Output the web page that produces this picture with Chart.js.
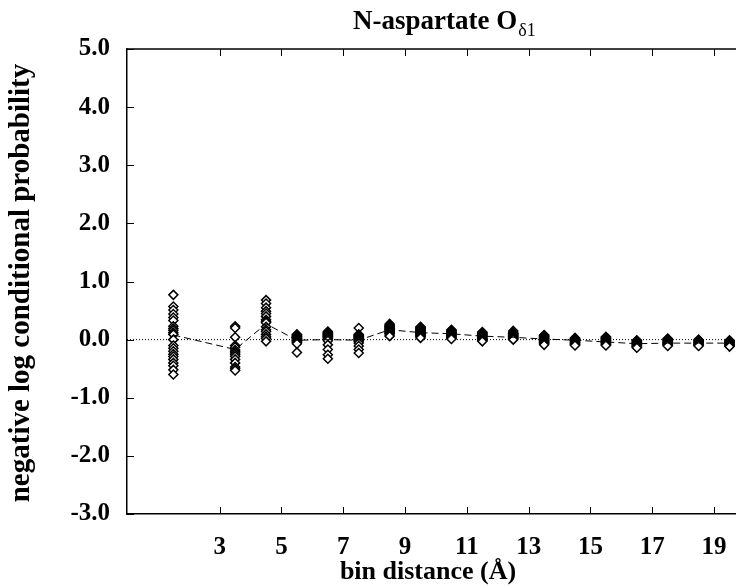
<!DOCTYPE html>
<html>
<head>
<meta charset="utf-8">
<script src="https://cdn.jsdelivr.net/npm/chart.js@4/dist/chart.umd.min.js"></script>
<style>
  html, body { margin: 0; padding: 0; background: #fff; }
  #wrap { width: 736px; height: 586px; }
</style>
</head>
<body>
<div id="wrap"><canvas id="myChart" width="736" height="586"></canvas></div>
<script>
// bin centres (Å)
const bins = [1.5, 3.5, 4.5, 5.5, 6.5, 7.5, 8.5, 9.5, 10.5, 11.5, 12.5, 13.5, 14.5, 15.5, 16.5, 17.5, 18.5, 19.5];

// dashed line through each bin
const meanValues = [0.08, -0.17, 0.27, -0.01, 0.0, -0.01, 0.17, 0.12, 0.10, 0.06, 0.04, 0.01, -0.01, -0.04, -0.07, -0.06, -0.06, -0.06];

// individual diamonds in each bin
const binSamples = [
  [0.77, 0.57, 0.51, 0.44, 0.38, 0.33, 0.23, 0.19, 0.16, 0.12, 0.09, 0.0, -0.10, -0.15, -0.20, -0.25, -0.29, -0.34, -0.40, -0.45, -0.52, -0.60],
  [0.23, 0.20, 0.04, -0.10, -0.13, -0.18, -0.21, -0.23, -0.26, -0.29, -0.34, -0.40, -0.47, -0.50, -0.53],
  [0.68, 0.62, 0.55, 0.49, 0.45, 0.40, 0.34, 0.31, 0.29, 0.22, 0.17, 0.14, 0.09, 0.05, 0.02, -0.03],
  [0.09, 0.08, 0.07, 0.06, 0.05, 0.04, 0.03, 0.02, 0.01, 0.0, -0.01, -0.02, -0.03, -0.04, -0.05, -0.07, -0.22],
  [0.14, 0.12, 0.11, 0.10, 0.09, 0.08, 0.07, 0.06, 0.05, 0.04, 0.03, 0.01, -0.02, -0.09, -0.17, -0.26, -0.33],
  [0.20, 0.09, 0.08, 0.07, 0.06, 0.05, 0.04, 0.03, 0.02, 0.01, 0.0, -0.01, -0.03, -0.06, -0.11, -0.17, -0.23],
  [0.27, 0.25, 0.24, 0.23, 0.22, 0.21, 0.20, 0.19, 0.18, 0.17, 0.16, 0.15, 0.14, 0.13, 0.12, 0.11, 0.10, 0.08, 0.06],
  [0.22, 0.21, 0.20, 0.19, 0.18, 0.17, 0.16, 0.15, 0.14, 0.13, 0.12, 0.11, 0.10, 0.09, 0.08, 0.07, 0.06, 0.05, 0.03],
  [0.17, 0.16, 0.15, 0.14, 0.13, 0.12, 0.11, 0.10, 0.09, 0.08, 0.07, 0.06, 0.05, 0.04, 0.03, 0.02, 0.01],
  [0.13, 0.12, 0.11, 0.10, 0.09, 0.08, 0.07, 0.06, 0.05, 0.04, 0.03, 0.02, 0.01, 0.0, -0.01, -0.02, -0.03],
  [0.15, 0.12, 0.11, 0.10, 0.09, 0.08, 0.07, 0.06, 0.05, 0.04, 0.03, 0.02, 0.01, 0.0],
  [0.08, 0.07, 0.06, 0.05, 0.04, 0.03, 0.02, 0.01, 0.0, -0.01, -0.02, -0.03, -0.04, -0.05, -0.06, -0.07, -0.09],
  [0.03, 0.02, 0.01, 0.0, -0.01, -0.02, -0.03, -0.04, -0.05, -0.06, -0.07, -0.08, -0.09, -0.10],
  [0.05, 0.04, 0.03, 0.02, 0.01, 0.0, -0.01, -0.02, -0.03, -0.04, -0.05, -0.06, -0.07, -0.08, -0.09, -0.10],
  [-0.01, -0.02, -0.03, -0.04, -0.05, -0.06, -0.07, -0.08, -0.09, -0.10, -0.11, -0.12, -0.13, -0.14],
  [0.02, 0.01, 0.0, -0.01, -0.02, -0.03, -0.04, -0.05, -0.06, -0.07, -0.08, -0.09, -0.10, -0.11],
  [0.0, -0.01, -0.02, -0.03, -0.04, -0.05, -0.06, -0.07, -0.08, -0.09, -0.10, -0.11],
  [-0.01, -0.02, -0.03, -0.04, -0.05, -0.06, -0.07, -0.08, -0.09, -0.10, -0.11, -0.12]
];

const xTicks = [3, 5, 7, 9, 11, 13, 15, 17, 19];
const yTicks = [-3, -2, -1, 0, 1, 2, 3, 4, 5];
const xRange = [0, 19.71];
const yRange = [-3, 5];

const titleMain = 'N-aspartate O';
const titleSub = 'δ1';
const xTitle = 'bin distance (Å)';
const yTitle = 'negative log conditional probability';

////////////////
let diamonds = [];
bins.forEach((b, i) => {
  binSamples[i].forEach(v => diamonds.push({x: b, y: v}));
});
let meanLine = bins.map((b, i) => ({x: b, y: meanValues[i]}));
let zeroLine = [{x: xRange[0], y: 0}, {x: xRange[1], y: 0}];

const serif = '"Liberation Serif", "Times New Roman", serif';

// title, axis titles, inward ticks and top frame
const decor = {
  id: 'decor',
  afterDraw(chart) {
    const ctx = chart.ctx;
    const a = chart.chartArea;
    const xs = chart.scales.x, ys = chart.scales.y;
    ctx.save();
    ctx.strokeStyle = '#000';
    ctx.lineWidth = 1.5;
    ctx.beginPath();
    ctx.moveTo(a.left, a.top);
    ctx.lineTo(a.right, a.top);
    ctx.stroke();
    ctx.lineWidth = 1;
    ctx.beginPath();
    xTicks.forEach(t => {
      let px = Math.round(xs.getPixelForValue(t)) + 0.5;
      ctx.moveTo(px, a.bottom); ctx.lineTo(px, a.bottom - 7);
      ctx.moveTo(px, a.top); ctx.lineTo(px, a.top + 7);
    });
    yTicks.forEach(t => {
      let py = Math.round(ys.getPixelForValue(t)) + 0.5;
      ctx.moveTo(a.left, py); ctx.lineTo(a.left + 7, py);
    });
    ctx.stroke();

    ctx.fillStyle = '#000';
    ctx.textBaseline = 'alphabetic';
    // title with subscript
    ctx.textAlign = 'left';
    ctx.font = 'bold 27px ' + serif;
    let w1 = ctx.measureText(titleMain).width;
    ctx.fillText(titleMain, 353, 29);
    ctx.font = '18px ' + serif;
    ctx.fillText(titleSub, 353 + w1 + 1, 36);

    // x title
    ctx.font = 'bold 26px ' + serif;
    ctx.textAlign = 'center';
    ctx.fillText(xTitle, 428, 579);

    // y title
    ctx.translate(29, 283);
    ctx.rotate(-Math.PI / 2);
    ctx.font = 'bold 29px ' + serif;
    ctx.fillText(yTitle, 0, 0);
    ctx.restore();
  }
};

new Chart('myChart', {
  type: 'scatter',
  data: {
    datasets: [{
      data: zeroLine,
      showLine: true,
      borderColor: '#000',
      borderWidth: 1,
      borderDash: [1, 2],
      pointRadius: 0,
      order: 3
    }, {
      data: diamonds,
      pointStyle: 'rectRot',
      pointRadius: 4.5,
      pointBorderWidth: 1.5,
      pointBackgroundColor: '#fff',
      pointBorderColor: '#000',
      showLine: false,
      order: 2
    }, {
      data: meanLine,
      showLine: true,
      borderColor: '#000',
      borderWidth: 1,
      borderDash: [7, 4],
      pointRadius: 0,
      order: 1
    }]
  },
  options: {
    responsive: false,
    animation: false,
    layout: {autoPadding: false, padding: {top: 49, right: 0, left: 0, bottom: 0}},
    plugins: {legend: {display: false}, tooltip: {enabled: false}},
    scales: {
      x: {
        type: 'linear',
        min: xRange[0],
        max: xRange[1],
        afterFit: s => { s.height = 72; s.paddingLeft = 0; s.paddingRight = 0; },
        afterBuildTicks: s => { s.ticks = xTicks.map(v => ({value: v})); },
        grid: {display: false, drawTicks: false},
        border: {display: true, color: '#000', width: 1.5},
        ticks: {
          color: '#000',
          padding: 19,
          font: {family: serif, size: 25, weight: 'bold'},
          callback: v => String(v)
        }
      },
      y: {
        min: yRange[0],
        max: yRange[1],
        afterFit: s => { s.width = 127; s.paddingTop = 0; s.paddingBottom = 0; },
        afterBuildTicks: s => { s.ticks = yTicks.map(v => ({value: v})); },
        grid: {display: false, drawTicks: false},
        border: {display: true, color: '#000', width: 1.5},
        ticks: {
          color: '#000',
          padding: 17,
          font: {family: serif, size: 25, weight: 'bold'},
          callback: v => v.toFixed(1)
        }
      }
    }
  },
  plugins: [decor]
});
</script>
</body>
</html>
